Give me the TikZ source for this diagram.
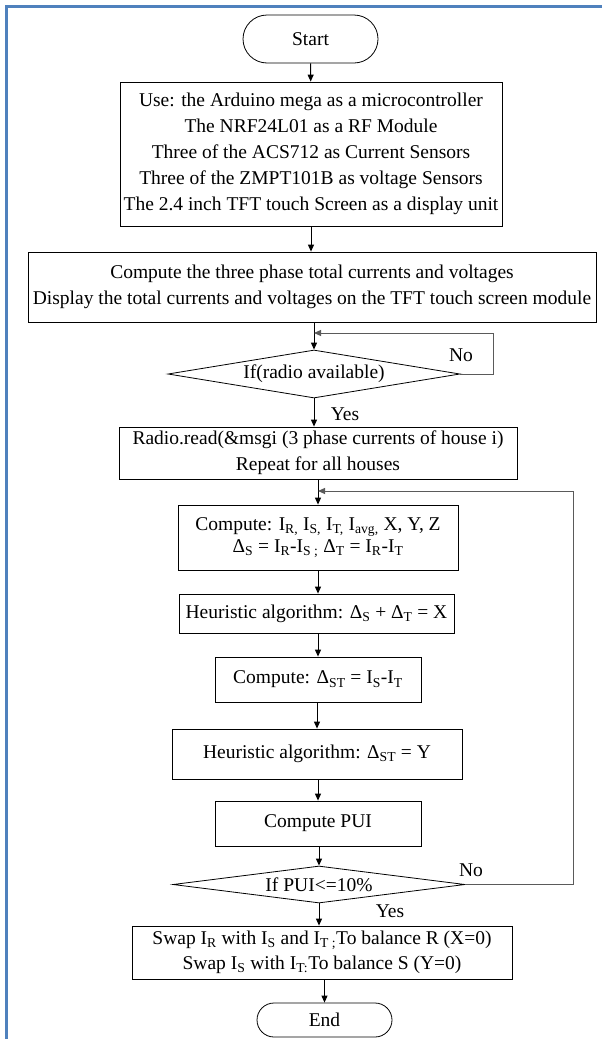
\documentclass[tikz,border=0pt]{standalone}
\usepackage{fontspec}
\setmainfont{Liberation Serif}
\usetikzlibrary{positioning,arrows.meta,shapes.geometric}
\definecolor{frameblue}{RGB}{79,129,189}
\definecolor{loopgray}{RGB}{90,90,90}

\begin{document}
\begin{tikzpicture}[x=1pt,y=-1pt,>={Triangle[length=7pt,width=6pt]},
  every node/.style={font=\fontsize{19.5}{26}\selectfont},
  proc/.style={draw,line width=0.8pt,align=center,inner sep=0pt},
  term/.style={draw,line width=0.8pt,inner sep=0pt},
  dec/.style={draw,diamond,line width=0.8pt,inner sep=0pt},
  flow/.style={->,line width=1pt},
  back/.style={->,line width=1pt,draw=loopgray}]
\useasboundingbox (0,0) rectangle (602,1039);
\draw[line width=3pt,frameblue] (6.5,1039) -- (6.5,6.5) -- (602,6.5);

\node (start) [term,rounded corners=24pt,minimum width=135pt,minimum height=48pt] at (310.5,39) {Start};
\node (hw) [proc,minimum width=382pt,minimum height=144pt] at (311,154)
  {Use: the Arduino mega as a microcontroller\\
   The NRF24L01 as a RF Module\\
   Three of the ACS712 as Current Sensors\\
   Three of the ZMPT101B as voltage Sensors\\
   The 2.4 inch TFT touch Screen as a display unit};
\node (disp) [proc,minimum width=568pt,minimum height=70pt] at (312,287)
  {Compute the three phase total currents and voltages\\
   Display the total currents and voltages on the TFT touch screen module};
\node (radio) [dec,aspect=6.1,minimum width=292pt,minimum height=48pt] at (314,374) {If(radio available)};
\node (read) [proc,minimum width=398pt,minimum height=52pt] at (318,453)
  {Radio.read(\&msgi (3 phase currents of house i)\\
   Repeat for all houses};
\node (calc) [proc,minimum width=280pt,minimum height=65pt,font=\fontsize{19.5}{22}\selectfont] at (318,537.5)
  {Compute: I\textsubscript{R,} I\textsubscript{S,} I\textsubscript{T,} I\textsubscript{avg,} X, Y, Z\\
   Δ\textsubscript{S} = I\textsubscript{R}-I\textsubscript{S ;} Δ\textsubscript{T} = I\textsubscript{R}-I\textsubscript{T}};
\node (heurx) [proc,minimum width=275pt,minimum height=39pt] at (316.5,613.5)
  {Heuristic algorithm: Δ\textsubscript{S} + Δ\textsubscript{T} = X};
\node (dst) [proc,minimum width=206pt,minimum height=45pt] at (318,679.5)
  {Compute: Δ\textsubscript{ST} = I\textsubscript{S}-I\textsubscript{T}};
\node (heury) [proc,minimum width=290pt,minimum height=50pt] at (317,754)
  {Heuristic algorithm: Δ\textsubscript{ST} = Y};
\node (pui) [proc,minimum width=206pt,minimum height=45pt] at (318,823.5) {Compute PUI};
\node (check) [dec,aspect=7.9,minimum width=292pt,minimum height=37pt] at (319,884.5) {If PUI<=10\%};
\node (swap) [proc,minimum width=380pt,minimum height=53pt,font=\fontsize{19.5}{25}\selectfont] at (322,952.5)
  {Swap I\textsubscript{R} with I\textsubscript{S} and I\textsubscript{T ;}To balance R (X=0)\\
   Swap I\textsubscript{S} with I\textsubscript{T:}To balance S (Y=0)};
\node (stop) [term,rounded corners=17pt,minimum width=135pt,minimum height=34pt] at (324.5,1020) {End};

% main line
\draw[flow] (start) -- (hw);
\draw[flow] (hw.south) -- (hw.south |- disp.north);
\draw[flow] (radio.north |- disp.south) -- (radio.north);
\draw[flow] (radio.south) -- (radio.south |- read.north);
\draw[flow] (calc.north |- read.south) -- (calc.north);
\draw[flow] (calc.south) -- (calc.south |- heurx.north);
\draw[flow] (dst.north |- heurx.south) -- (dst.north);
\draw[flow] (heury.north |- dst.south) -- (heury.north);
\draw[flow] (pui.north |- heury.south) -- (pui.north);
\draw[flow] (check.north |- pui.south) -- (check.north);
\draw[flow] (check.south) -- (check.south |- swap.north);
\draw[flow] (stop.north |- swap.south) -- (stop.north);
\node (yes1) at (345,414) {Yes};
\node (yes2) at (390,911) {Yes};

% loops back
\coordinate (waitin) at (314,333);
\coordinate (redo) at (318,491);
\draw[back] (radio.east) -- (493,374) |- (waitin);
\draw[back] (check.east) -- (573,884.5) |- (redo);
\node (no1) at (461,355) {No};
\node (no2) at (471,870) {No};
\end{tikzpicture}
\end{document}
